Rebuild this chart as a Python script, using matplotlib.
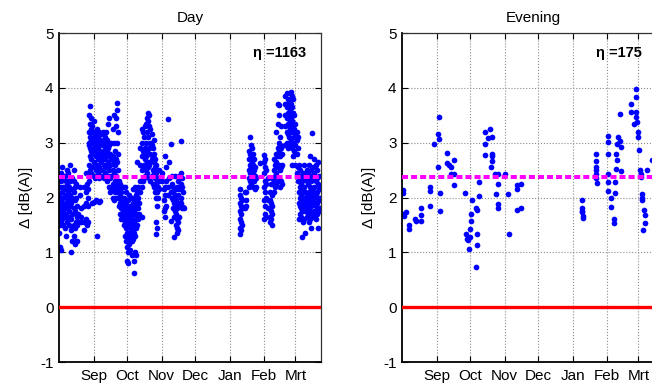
import matplotlib.pyplot as plt

plt.rcParams['font.family'] = ['Liberation Sans', 'DejaVu Sans']
plt.rcParams['axes.unicode_minus'] = False

# x axis in days since 1 Aug
month_labels = ['Sep', 'Oct', 'Nov', 'Dec', 'Jan', 'Feb', 'Mrt']
month_days = [31, 61, 92, 122, 153, 184, 212]

# Day period: values per measurement day
day_cols = [0, 1, 2, 3, 4, 5, 6, 7, 8, 9, 10, 11, 12, 13, 14, 15, 16, 17, 19, 20, 22, 24, 25, 26,
            27, 28, 29, 30, 31, 32, 33, 34, 35, 36, 37, 38, 39, 40, 41, 42, 43, 44, 45, 46, 47,
            48, 49, 50, 51, 52, 53,
            54, 55, 56, 57, 58, 59, 60, 61, 62, 63, 64, 65, 66, 67, 68, 69, 70, 71, 72,
            73, 74, 75, 76, 77, 78, 79, 80, 81, 82, 83, 84, 85, 86, 87, 88, 89, 90,
            92, 94, 95, 96, 98, 99, 100, 101, 102, 103, 104, 105, 106, 107, 108, 109, 110, 111, 112,
            162, 163, 164, 167, 168, 170, 171, 172, 173, 174, 175, 176, 177, 180,
            184, 185, 186, 187, 189, 190, 191, 193, 194, 195, 196, 197, 198, 199, 200,
            203, 204, 205, 206, 207, 208, 209, 210, 211, 212, 213, 214,
            215, 216, 217, 218, 219, 220, 221, 222, 223, 224, 225, 226, 227, 228, 229, 230,
            231, 232, 233, 234]
day_vals = [
    [1.35, 1.6, 1.75, 1.9, 2.05], [1.1, 1.5, 1.7, 1.85, 2.0, 2.2],
    [1.05, 1.55, 1.8, 1.95, 2.3, 2.45], [1.6, 1.7, 1.9, 2.1, 2.55],
    [1.5, 1.75, 2.0, 2.2, 2.35], [1.45, 1.65, 1.85, 2.05, 2.4],
    [1.3, 1.7, 1.9, 2.15, 2.3], [1.55, 1.8, 2.0, 2.25, 2.5],
    [1.6, 1.9, 2.1, 2.3, 2.45], [1.5, 1.75, 1.95, 2.2],
    [1.65, 1.85, 2.05, 2.3, 2.6], [1.0, 1.4, 1.6, 1.9, 2.15],
    [1.2, 1.45, 1.7, 2.0, 2.35], [1.3, 1.5, 1.8, 2.1, 2.3, 2.5],
    [1.15, 1.45, 1.75, 1.95, 2.2], [1.2, 1.55, 1.7, 2.0, 2.25],
    [1.2, 1.5, 1.65, 1.85], [1.55, 1.7], [2.05, 2.2], [1.55, 1.65, 1.8],
    [1.4, 1.55, 1.85, 2.2], [1.6, 1.9, 2.1, 2.45], [1.5, 1.55, 2.25], [1.55, 1.85, 2.0, 2.15],
    [2.3, 2.6, 2.95, 3.0, 3.2, 3.5], [2.5, 2.75, 2.9, 3.1, 3.35, 3.67],
    [2.45, 2.7, 2.85, 3.05, 3.25, 3.45], [1.9, 2.55, 2.8, 3.0, 3.2, 3.3],
    [1.92, 2.4, 2.65, 2.9, 3.1, 3.4], [2.35, 2.6, 2.85, 3.05, 3.2],
    [1.95, 2.5, 2.75, 2.95, 3.15], [1.3, 2.4, 2.6, 2.8, 3.0, 3.25],
    [2.45, 2.7, 2.9, 3.1], [1.92, 2.35, 2.55, 2.75, 2.95, 3.2],
    [1.93, 2.5, 2.7, 2.85, 3.05], [2.4, 2.65, 2.8, 3.0, 3.15],
    [2.5, 2.75, 2.95, 3.2], [2.35, 2.6, 2.85, 3.05, 3.15],
    [2.45, 2.7, 2.9, 3.1], [2.55, 2.8, 3.0, 3.2], [2.3, 2.6, 2.85, 3.05],
    [2.4, 2.65, 2.9, 3.35], [2.2, 2.5, 2.75, 2.95, 3.45], [2.1, 2.35, 2.6, 2.8],
    [2.15, 2.4, 2.7, 3.0], [2.0, 2.25, 2.5, 2.75, 3.25],
    [1.95, 2.2, 2.45, 2.65, 3.0, 3.5], [2.1, 2.3, 2.6, 2.85],
    [2.0, 2.2, 2.4, 2.7, 3.3, 3.45], [2.3, 2.65, 3.0, 3.6, 3.73],
    [2.1, 2.25, 2.5, 2.8, 3.2],
    [1.85, 2.0, 2.15, 2.3], [1.7, 1.9, 2.05, 2.25], [1.6, 1.8, 1.95, 2.1],
    [1.65, 1.75, 1.9, 2.2], [1.5, 1.7, 1.85, 2.0], [1.3, 1.55, 1.75, 1.95, 2.2],
    [1.2, 1.45, 1.65, 1.9, 2.1], [0.85, 1.1, 1.35, 1.6, 1.8],
    [0.8, 1.0, 1.25, 1.5, 1.7, 1.95], [1.15, 1.35, 1.55, 1.75, 2.05],
    [1.05, 1.3, 1.45, 1.65, 1.85], [0.95, 1.2, 1.4, 1.6, 1.8, 2.0],
    [1.25, 1.5, 1.7, 1.9, 2.15], [0.63, 0.85, 1.35, 1.55, 1.75, 2.0],
    [1.0, 1.3, 1.5, 1.7, 1.95, 2.2], [0.95, 1.45, 1.6, 1.85, 2.05],
    [1.5, 1.7, 1.9, 2.1, 2.65], [1.6, 1.8, 2.0, 2.2], [1.7, 1.9, 2.1],
    [2.1, 2.3, 2.6, 2.9], [1.65, 2.2, 2.5, 2.75, 3.0, 3.25], [2.3, 2.55, 2.85, 3.2],
    [2.35, 2.6, 2.8, 3.1], [2.4, 2.7, 2.9, 3.3], [2.5, 2.75, 3.0, 3.35],
    [2.45, 2.65, 2.85, 3.2, 3.45], [2.55, 2.8, 3.1, 3.4, 3.55],
    [2.35, 2.6, 2.9, 3.3, 3.5], [2.3, 2.65, 2.8, 3.0, 3.25], [2.4, 2.7, 2.95, 3.15],
    [2.25, 2.5, 2.75, 2.9], [2.2, 2.45, 2.65, 2.8, 3.05], [2.1, 2.35, 2.55, 2.7],
    [1.33, 1.55, 2.0, 2.25, 2.45, 2.6], [1.45, 1.85, 2.1, 2.3, 2.5], [2.0, 2.2, 2.35],
    [2.15, 2.3, 2.5],
    [2.3, 2.45], [1.75, 1.95, 2.15], [1.65, 1.8, 2.05, 2.2, 2.75], [1.85, 2.3, 2.55],
    [2.05, 2.2, 3.44], [2.35, 2.65], [1.58, 2.1, 2.98], [2.0, 2.25, 2.4],
    [1.8, 1.95, 2.1, 2.2], [1.28, 1.65, 1.9, 2.0], [1.75, 1.85, 2.05, 2.4],
    [1.5, 1.7, 1.95, 2.15], [1.35, 1.45, 1.6, 1.8, 2.2], [1.4, 1.55, 1.9, 2.05, 2.3],
    [1.65, 1.85, 2.15, 2.4], [1.9, 2.0, 2.25, 2.45, 3.04], [1.8, 2.2, 2.35], [1.82, 2.1],
    [1.8],
    [1.33, 1.45, 1.6, 1.75, 1.9, 2.05, 2.15], [1.4, 1.55, 1.7, 1.85, 2.0], [1.5, 1.8, 1.95],
    [1.8, 2.1], [1.85, 1.95, 2.1], [2.2, 2.35, 2.5, 2.7, 2.85], [2.3, 2.45, 2.6, 2.8, 3.1],
    [2.25, 2.4, 2.55, 2.75, 2.95], [2.35, 2.5, 2.65, 2.9], [2.2, 2.45, 2.6, 2.8],
    [2.3, 2.5, 2.7], [2.15, 2.4, 2.55], [2.2, 2.35], [2.63],
    [1.6, 1.95, 2.2, 2.45, 2.65, 2.78], [1.7, 1.85, 2.1, 2.3, 2.55, 2.7],
    [1.65, 2.0, 2.25, 2.5], [1.8, 1.95, 2.35], [1.55, 1.65, 1.8, 1.95, 2.1],
    [1.6, 1.75, 1.9, 2.25], [1.5, 1.7, 1.85, 2.05, 2.35], [2.1, 2.3, 2.5, 2.7],
    [2.2, 2.4, 2.6], [2.25, 2.45, 2.65, 2.8, 3.2], [2.3, 2.55, 2.75, 2.9, 3.35, 3.7],
    [2.35, 2.6, 2.85, 3.0, 3.5, 3.68], [2.2, 2.5, 2.75, 2.95, 3.1], [2.3, 2.55, 2.9, 3.3],
    [2.25, 2.6, 2.8],
    [2.95, 3.3, 3.5, 3.7, 3.85], [3.0, 3.2, 3.45, 3.65, 3.9], [2.9, 3.15, 3.35, 3.55, 3.8],
    [3.1, 3.3, 3.5, 3.75], [2.95, 3.25, 3.4, 3.6, 3.9], [3.05, 3.3, 3.45, 3.7, 3.92],
    [2.6, 2.9, 3.2, 3.4, 3.65, 3.85], [2.75, 3.0, 3.35, 3.55, 3.8], [2.85, 3.1, 3.25, 3.5],
    [2.6, 2.95, 3.15, 3.35], [2.45, 2.8, 3.05, 3.2], [2.3, 2.55, 2.9, 3.1],
    [1.6, 1.9, 2.1, 2.35, 2.6], [1.7, 1.85, 2.0, 2.2, 2.5], [1.65, 1.8, 2.05, 2.25, 2.4],
    [1.28, 1.75, 1.95, 2.1, 2.3], [1.55, 1.8, 1.9, 2.15, 2.45], [1.6, 1.85, 2.0, 2.2, 2.6],
    [1.35, 1.75, 1.95, 2.1, 2.35], [1.65, 1.85, 2.05, 2.3, 2.5], [1.7, 1.9, 2.0, 2.25, 2.45],
    [1.55, 1.8, 2.1, 2.35, 2.6], [1.6, 1.75, 1.95, 2.2, 2.75], [1.45, 1.85, 2.05, 2.3, 2.5],
    [1.7, 1.9, 2.15, 2.4, 3.18], [1.65, 1.95, 2.1, 2.35, 2.55], [1.75, 2.0, 2.2, 2.45, 2.7],
    [1.6, 1.85, 2.05, 2.3, 2.6], [1.7, 1.9, 2.1, 2.35, 2.5], [1.45, 1.8, 2.0, 2.25, 2.65],
    [1.75, 1.95, 2.15, 2.4], [1.8, 2.0, 2.2],
]

# Evening period
eve_x = [1, 1, 0.5, 1.5, 4, 6.5, 6.5, 12, 12.5, 17, 17, 17, 25, 25, 25, 29, 32, 33, 33, 32.5,
         34, 34, 40.5, 40.5, 42, 43.5, 43.5, 47, 47, 47,
         56.5, 57, 58, 59.5, 60, 60.5, 61, 61.5, 62, 63, 66, 67, 67.5, 67.5, 66.5, 69, 69,
         74, 74, 74, 79, 77.5, 80.5, 80.5, 81, 79.5, 81, 83, 84, 86, 86.5, 86.5, 86.5,
         92.5, 95, 95.5, 103, 103, 103.5, 106.5, 107,
         161, 161, 161.5, 161.5, 162, 162,
         173.5, 173.5, 173.5, 174, 173.5, 174, 175, 184.5, 184.5, 184.5, 184.5, 184.5, 184.5,
         187.5, 187.5, 190, 190, 191, 191, 191.5, 192, 193, 193, 193.5, 195, 195.5, 196, 196.5,
         205.5, 205.5, 209.5, 209.5, 209.5, 208, 210, 210.5, 211.5, 212, 212.5, 213, 214,
         214, 215, 215, 215.5, 217, 218, 218, 216.5, 219.5, 224]
eve_y = [2.14, 2.08, 1.7, 1.67, 1.73, 1.49, 1.42, 1.6, 1.58, 1.81, 1.69, 1.58, 2.2, 2.12, 1.85,
         2.98, 3.16, 3.47, 3.06, 2.55, 2.08, 1.75, 2.82, 2.63, 2.6, 2.55, 2.43, 2.69, 2.43, 2.22,
         2.08, 1.34, 1.25, 1.22, 1.07, 1.28, 1.43, 1.58, 1.7, 1.95, 0.73, 1.13, 1.34, 1.77, 1.8,
         2.28, 2.02,
         2.98, 3.19, 2.78, 3.25, 3.08, 3.11, 2.8, 2.67, 2.55, 2.76, 2.42, 2.07, 2.43, 2.25, 1.89,
         1.8, 2.43, 2.07, 1.34, 2.22, 2.16, 1.77, 2.25, 1.8,
         1.95, 1.8, 1.76, 1.73, 1.67, 1.63,
         2.8, 2.67, 2.55, 2.5, 2.43, 2.35, 2.26, 3.13, 3.02, 2.79, 2.42, 2.28, 2.12,
         2.0, 1.83, 1.6, 1.54, 2.08, 2.28, 2.52, 2.8, 2.68, 2.98, 3.1, 3.53, 3.04, 2.92, 2.48,
         3.7, 3.56, 3.98, 3.83, 3.56, 3.34, 3.47, 3.37, 3.19, 3.1, 2.86, 2.5, 2.43,
         2.37, 2.07, 1.95, 2.0, 1.77, 1.68, 1.54, 1.41, 2.5, 2.68]

day_mean = 2.37
eve_mean = 2.38
day_n = 1163
eve_n = 175

day_x = [d for d, vals in zip(day_cols, day_vals) for _ in vals]
day_y = [v for vals in day_vals for v in vals]

fig = plt.figure(figsize=(6.52, 3.85), dpi=100)
ax1 = fig.add_axes([0.0905, 0.0597, 0.402, 0.8545])
ax2 = fig.add_axes([0.6166, 0.0597, 0.402, 0.8545])


def panel(ax, x, y, mean, title, n):
    ax.set_axisbelow(True)
    ax.grid(True, ls=':', color='#8c8c8c', lw=0.8)
    ax.plot(x, y, 'o', color='#0000ff', ms=4.1, mec='none', zorder=2)
    ax.axhline(0, color='#ff0000', lw=2.4, zorder=3)
    ax.axhline(mean, color='#ff00ff', lw=2.9, dashes=(1.5, 0.75), zorder=4)
    ax.set_xlim(0, 235)
    ax.set_ylim(-1, 5)
    ax.set_xticks(month_days)
    ax.set_xticklabels(month_labels)
    ax.set_yticks(range(-1, 6))
    ax.tick_params(direction='in', length=4, top=True, right=True, labelsize=11, pad=5)
    ax.tick_params(axis='y', pad=4)
    for s in ['left', 'bottom']:
        ax.spines[s].set_linewidth(1.3)
    for s in ['top', 'right']:
        ax.spines[s].set_linewidth(0.9)
        ax.spines[s].set_color('#333333')
    ax.set_title(title, fontsize=11, pad=8)
    ax.set_ylabel('\u0394 [dB(A)]', fontsize=11, labelpad=5)
    ax.text(0.74, 0.94, '\u03b7 =%d' % n, transform=ax.transAxes, fontsize=10.5,
            fontweight='bold', va='center', ha='left')


panel(ax1, day_x, day_y, day_mean, 'Day', day_n)
panel(ax2, eve_x, eve_y, eve_mean, 'Evening', eve_n)

fig.savefig('out.png', dpi=100)
